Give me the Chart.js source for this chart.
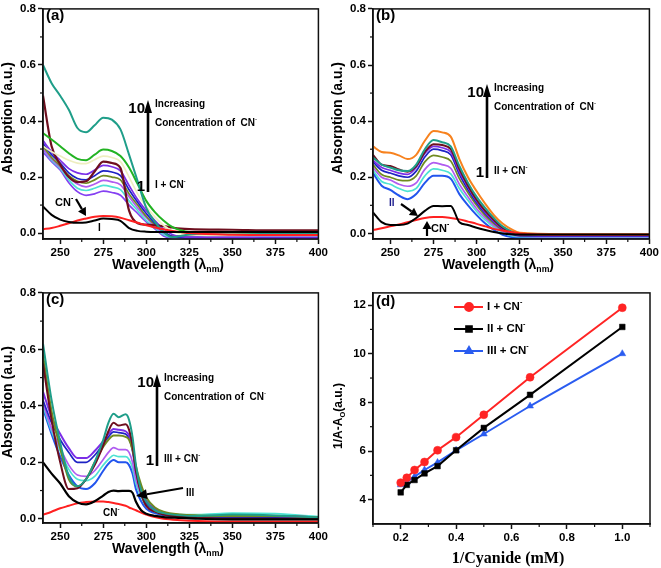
<!DOCTYPE html>
<html>
<head>
<meta charset="utf-8">
<script src="https://cdn.jsdelivr.net/npm/chart.js@4.4.0/dist/chart.umd.min.js"></script>
<style>
  body { margin: 0; background: #fff; }
  #wrap { position: relative; width: 661px; height: 568px; }
  canvas { position: absolute; }
</style>
</head>
<body>
<div id="wrap">
  <canvas id="pa" width="330" height="284" style="left:0;top:0"></canvas>
  <canvas id="pb" width="331" height="284" style="left:330px;top:0"></canvas>
  <canvas id="pc" width="330" height="284" style="left:0;top:284px"></canvas>
  <canvas id="pd" width="331" height="284" style="left:330px;top:284px"></canvas>
</div>
<script>
// ---- data ----
const WL_AB = [240, 245, 250, 255, 260, 265, 270, 275, 280, 285, 290, 295, 300, 305, 310, 315, 320, 325, 350, 375, 400];
const WL_C = [240, 245, 250, 255, 260, 265, 270, 275, 278, 281, 284, 288, 290, 292, 294, 297, 300, 305, 310, 320, 330, 350, 375, 400];

const X_TICKS = [250, 275, 300, 325, 350, 375, 400];
const X_MINOR = [262.5, 287.5, 312.5, 337.5, 362.5, 387.5];
const Y_TICKS = [0, 0.2, 0.4, 0.6, 0.8];
const Y_MINOR = [0.1, 0.3, 0.5, 0.7];

// panel (a): I + CN-
const A_I      = [0.095, 0.065, 0.048, 0.040, 0.037, 0.038, 0.045, 0.052, 0.050, 0.044, 0.018, 0.008, 0.005, 0.004, 0.004, 0.004, 0.004, 0.004, 0.004, 0.004, 0.004];
const A_CN     = [0.014, 0.018, 0.026, 0.035, 0.045, 0.052, 0.058, 0.061, 0.060, 0.055, 0.046, 0.037, 0.028, 0.020, 0.014, 0.008, 0.004, 0.000, -0.006, -0.007, -0.007];
const A_TEAL   = [0.600, 0.535, 0.490, 0.440, 0.375, 0.360, 0.385, 0.412, 0.405, 0.370, 0.280, 0.185, 0.090, 0.040, 0.005, -0.015, -0.010, -0.005, 0.003, 0.000, 0.000];
const A_GREEN  = [0.357, 0.334, 0.310, 0.285, 0.265, 0.260, 0.280, 0.298, 0.293, 0.275, 0.234, 0.175, 0.115, 0.075, 0.045, 0.022, 0.010, 0.004, 0.003, 0.002, 0.002];
const A_YELLOW = [0.310, 0.290, 0.275, 0.260, 0.250, 0.248, 0.262, 0.275, 0.270, 0.255, 0.200, 0.140, 0.095, 0.058, 0.028, 0.008, -0.002, -0.006, -0.008, -0.008, -0.008];
const A_MAROON = [0.490, 0.310, 0.245, 0.200, 0.182, 0.185, 0.220, 0.255, 0.250, 0.232, 0.080, 0.035, 0.030, 0.028, 0.025, 0.020, 0.016, 0.014, 0.012, 0.010, 0.010];
const A_VIOLET = [0.330, 0.290, 0.260, 0.230, 0.215, 0.210, 0.225, 0.242, 0.237, 0.222, 0.170, 0.120, 0.080, 0.045, 0.015, -0.005, -0.012, -0.015, -0.015, -0.018, -0.018];
const A_NAVY   = [0.320, 0.280, 0.250, 0.215, 0.195, 0.190, 0.205, 0.222, 0.218, 0.205, 0.155, 0.110, 0.070, 0.035, 0.005, -0.012, -0.015, -0.016, -0.016, -0.016, -0.016];
const A_OLIVE  = [0.310, 0.270, 0.240, 0.205, 0.185, 0.178, 0.190, 0.205, 0.200, 0.190, 0.140, 0.100, 0.060, 0.030, 0.005, -0.010, -0.010, -0.008, -0.005, -0.005, -0.005];
const A_LPURP  = [0.300, 0.265, 0.235, 0.200, 0.175, 0.165, 0.175, 0.188, 0.183, 0.172, 0.130, 0.090, 0.055, 0.025, 0.000, -0.012, -0.014, -0.014, -0.014, -0.014, -0.014];
const A_CYAN   = [0.300, 0.260, 0.230, 0.190, 0.160, 0.152, 0.160, 0.170, 0.165, 0.155, 0.115, 0.080, 0.045, 0.020, -0.005, -0.015, -0.015, -0.014, -0.012, -0.012, -0.012];
const A_PURPLE = [0.290, 0.255, 0.225, 0.180, 0.148, 0.135, 0.140, 0.150, 0.145, 0.135, 0.100, 0.070, 0.040, 0.015, -0.010, -0.018, -0.020, -0.020, -0.020, -0.020, -0.020];

// panel (b): II + CN-
const B_II     = [0.075, 0.040, 0.030, 0.030, 0.035, 0.055, 0.080, 0.098, 0.097, 0.098, 0.040, 0.030, 0.020, 0.012, 0.005, 0.000, -0.003, -0.004, -0.004, -0.004, -0.004];
const B_CN     = [0.012, 0.018, 0.025, 0.032, 0.040, 0.048, 0.055, 0.058, 0.058, 0.055, 0.050, 0.042, 0.034, 0.025, 0.016, 0.010, 0.005, 0.000, -0.005, -0.005, -0.005];
const B_ORANGE = [0.310, 0.290, 0.287, 0.278, 0.265, 0.280, 0.330, 0.365, 0.360, 0.345, 0.265, 0.200, 0.150, 0.105, 0.065, 0.035, 0.015, 0.002, -0.003, -0.003, -0.003];
const B_TEAL   = [0.270, 0.245, 0.235, 0.225, 0.222, 0.245, 0.300, 0.333, 0.325, 0.310, 0.240, 0.180, 0.130, 0.090, 0.055, 0.025, 0.008, -0.002, -0.005, -0.005, -0.005];
const B_MAROON = [0.280, 0.245, 0.240, 0.228, 0.220, 0.240, 0.290, 0.318, 0.315, 0.300, 0.230, 0.170, 0.120, 0.080, 0.048, 0.020, 0.005, -0.004, -0.006, -0.006, -0.006];
const B_VIOLET = [0.260, 0.235, 0.225, 0.215, 0.210, 0.235, 0.285, 0.310, 0.305, 0.290, 0.220, 0.165, 0.115, 0.075, 0.043, 0.017, 0.002, -0.006, -0.008, -0.008, -0.008];
const B_NAVY   = [0.255, 0.225, 0.215, 0.205, 0.200, 0.222, 0.272, 0.300, 0.295, 0.280, 0.210, 0.155, 0.108, 0.070, 0.040, 0.015, 0.000, -0.008, -0.010, -0.010, -0.010];
const B_OLIVE  = [0.245, 0.210, 0.200, 0.190, 0.188, 0.205, 0.255, 0.278, 0.272, 0.258, 0.195, 0.145, 0.100, 0.063, 0.035, 0.012, -0.002, -0.008, -0.010, -0.010, -0.010];
const B_LPURP  = [0.235, 0.200, 0.190, 0.175, 0.168, 0.180, 0.228, 0.252, 0.245, 0.232, 0.175, 0.130, 0.088, 0.055, 0.028, 0.008, -0.005, -0.010, -0.012, -0.012, -0.012];
const B_CYAN   = [0.225, 0.185, 0.175, 0.160, 0.150, 0.160, 0.205, 0.230, 0.225, 0.212, 0.160, 0.118, 0.078, 0.047, 0.022, 0.003, -0.008, -0.012, -0.013, -0.013, -0.013];
const B_BLUE   = [0.215, 0.170, 0.155, 0.135, 0.122, 0.140, 0.180, 0.205, 0.205, 0.195, 0.140, 0.100, 0.065, 0.035, 0.012, -0.005, -0.013, -0.015, -0.015, -0.015, -0.015];

// panel (c): III + CN-
const C_III    = [0.200, 0.160, 0.125, 0.080, 0.058, 0.051, 0.062, 0.082, 0.095, 0.100, 0.098, 0.099, 0.099, 0.092, 0.060, 0.030, 0.018, 0.010, 0.006, 0.003, 0.000, -0.002, -0.002, -0.002];
const C_CN     = [0.014, 0.025, 0.037, 0.046, 0.055, 0.059, 0.061, 0.061, 0.059, 0.056, 0.052, 0.046, 0.040, 0.035, 0.030, 0.022, 0.015, 0.006, 0.000, -0.005, -0.008, -0.010, -0.010, -0.010];
const C_TEAL   = [0.620, 0.420, 0.270, 0.150, 0.115, 0.140, 0.200, 0.280, 0.340, 0.372, 0.360, 0.370, 0.350, 0.290, 0.190, 0.100, 0.060, 0.030, 0.020, 0.012, 0.010, 0.015, 0.012, 0.005];
const C_MAROON = [0.550, 0.350, 0.200, 0.105, 0.108, 0.140, 0.190, 0.260, 0.310, 0.340, 0.330, 0.335, 0.315, 0.260, 0.170, 0.090, 0.045, 0.025, 0.015, 0.008, 0.005, 0.000, 0.000, 0.000];
const C_OLIVE  = [0.580, 0.380, 0.250, 0.140, 0.115, 0.140, 0.200, 0.255, 0.280, 0.295, 0.295, 0.290, 0.280, 0.245, 0.185, 0.120, 0.075, 0.040, 0.025, 0.015, 0.012, 0.010, 0.010, 0.005];
const C_VIOLET = [0.450, 0.360, 0.300, 0.250, 0.215, 0.215, 0.240, 0.275, 0.300, 0.318, 0.315, 0.310, 0.295, 0.250, 0.175, 0.105, 0.065, 0.035, 0.020, 0.012, 0.010, 0.012, 0.010, 0.005];
const C_NAVY   = [0.420, 0.340, 0.280, 0.235, 0.200, 0.200, 0.225, 0.265, 0.290, 0.308, 0.305, 0.300, 0.285, 0.240, 0.165, 0.095, 0.055, 0.030, 0.015, 0.008, 0.005, 0.005, 0.004, 0.002];
const C_LPURP  = [0.410, 0.320, 0.250, 0.190, 0.155, 0.150, 0.170, 0.210, 0.235, 0.252, 0.245, 0.245, 0.235, 0.200, 0.140, 0.085, 0.050, 0.028, 0.016, 0.010, 0.008, 0.012, 0.010, 0.005];
const C_CYAN   = [0.400, 0.310, 0.240, 0.175, 0.140, 0.135, 0.150, 0.190, 0.210, 0.225, 0.220, 0.220, 0.210, 0.180, 0.125, 0.078, 0.045, 0.025, 0.018, 0.015, 0.015, 0.020, 0.018, 0.008];
const C_BLUE   = [0.390, 0.300, 0.220, 0.155, 0.115, 0.105, 0.125, 0.170, 0.195, 0.208, 0.200, 0.200, 0.190, 0.160, 0.105, 0.062, 0.035, 0.020, 0.012, 0.008, 0.006, 0.008, 0.006, 0.003];

// panel (d): Benesi-Hildebrand plot
const D_X   = [0.2, 0.222, 0.25, 0.286, 0.333, 0.4, 0.5, 0.667, 1.0];
const D_I   = [4.70, 4.90, 5.22, 5.55, 6.03, 6.57, 7.49, 9.03, 11.89];
const D_II  = [4.30, 4.61, 4.81, 5.08, 5.38, 6.03, 6.95, 8.31, 11.10];
const D_III = [4.61, 4.72, 4.95, 5.22, 5.53, 6.03, 6.70, 7.85, 10.00];
const D_X_TICKS = [0.2, 0.4, 0.6, 0.8, 1.0];
const D_X_MINOR = [0.1, 0.3, 0.5, 0.7, 0.9, 1.1];
const D_Y_TICKS = [4, 6, 8, 10, 12];
const D_Y_MINOR = [5, 7, 9, 11];

// ---- styles ----
const SANS = '"Liberation Sans", Arial, sans-serif';
const SERIF = '"Liberation Serif", "Times New Roman", serif';
const C = {
  black: '#000000', red: '#ff2020', teal: '#1f9e89', green: '#22b322', yellow: '#eeeec0',
  maroon: '#6e0f1e', violet: '#7b2ee8', navy: '#1d22c4', olive: '#6f8a1f', lpurp: '#b05cf0',
  cyan: '#4de3d3', blue: '#2f62e6', purple: '#8540f2', orange: '#f7821e', dblue: '#2255ee'
};

// rich text: ^{..} superscript, _{..} subscript
function parseRich(s) {
  const out = [];
  const re = /([\^_])\{([^}]*)\}/g;
  let last = 0, m;
  while ((m = re.exec(s))) {
    if (m.index > last) out.push({ t: s.slice(last, m.index), k: '' });
    out.push({ t: m[2], k: m[1] === '^' ? 'sup' : 'sub' });
    last = re.lastIndex;
  }
  if (last < s.length) out.push({ t: s.slice(last), k: '' });
  return out;
}

function drawRich(ctx, s, x, y, size, align, family) {
  const parts = parseRich(s);
  const fam = family || SANS;
  const fontOf = p => 'bold ' + (p.k ? size * 0.62 : size) + 'px ' + fam;
  let w = 0;
  parts.forEach(p => { ctx.font = fontOf(p); p.w = ctx.measureText(p.t).width; w += p.w; });
  let cx = align === 'center' ? x - w / 2 : align === 'right' ? x - w : x;
  ctx.textAlign = 'left';
  ctx.textBaseline = 'middle';
  parts.forEach(p => {
    ctx.font = fontOf(p);
    const dy = p.k === 'sup' ? -size * 0.42 : p.k === 'sub' ? size * 0.3 : 0;
    ctx.fillText(p.t, cx, y + dy);
    cx += p.w;
  });
}

function arrow(ctx, x1, y1, x2, y2, lw, headLen, headW) {
  const ang = Math.atan2(y2 - y1, x2 - x1);
  const bx = x2 - Math.cos(ang) * headLen, by = y2 - Math.sin(ang) * headLen;
  ctx.lineWidth = lw;
  ctx.beginPath();
  ctx.moveTo(x1, y1);
  ctx.lineTo(bx, by);
  ctx.stroke();
  ctx.beginPath();
  ctx.moveTo(x2, y2);
  ctx.lineTo(bx + Math.sin(ang) * headW, by - Math.cos(ang) * headW);
  ctx.lineTo(bx - Math.sin(ang) * headW, by + Math.cos(ang) * headW);
  ctx.closePath();
  ctx.fill();
}

// frame, minor ticks, titles and notes
function decor(cfg) {
  return {
    id: 'decor',
    afterDraw(chart) {
      const { ctx, chartArea: a, scales } = chart;
      ctx.save();
      ctx.strokeStyle = '#111';
      ctx.fillStyle = '#111';
      ctx.lineWidth = 1.5;
      ctx.strokeRect(a.left, a.top, a.right - a.left, a.bottom - a.top);
      ctx.lineWidth = 1.2;
      cfg.xMinor.forEach(v => {
        const p = scales.x.getPixelForValue(v);
        ctx.beginPath(); ctx.moveTo(p, a.bottom); ctx.lineTo(p, a.bottom + 3); ctx.stroke();
      });
      cfg.yMinor.forEach(v => {
        const p = scales.y.getPixelForValue(v);
        ctx.beginPath(); ctx.moveTo(a.left - 3, p); ctx.lineTo(a.left, p); ctx.stroke();
      });
      // axis titles
      ctx.fillStyle = '#000';
      drawRich(ctx, cfg.xTitle, cfg.xTitlePos[0], cfg.xTitlePos[1], cfg.xTitleSize, 'center', cfg.xTitleFamily);
      ctx.save();
      ctx.translate(cfg.yTitlePos[0], cfg.yTitlePos[1]);
      ctx.rotate(-Math.PI / 2);
      drawRich(ctx, cfg.yTitle, 0, 0, cfg.yTitleSize, 'center');
      ctx.restore();
      // notes
      (cfg.notes || []).forEach(n => {
        ctx.fillStyle = n.color || '#000';
        drawRich(ctx, n.text, n.x, n.y, n.size, n.align || 'left');
      });
      (cfg.arrows || []).forEach(r => {
        ctx.strokeStyle = r.color || '#000';
        ctx.fillStyle = r.color || '#000';
        arrow(ctx, r.from[0], r.from[1], r.to[0], r.to[1], r.lw, r.head, r.hw);
      });
      // manual legend
      (cfg.legend || []).forEach((row, i) => {
        const ds = chart.data.datasets[i];
        const y = row.y;
        ctx.strokeStyle = ds.borderColor;
        ctx.fillStyle = ds.borderColor;
        ctx.lineWidth = 2;
        ctx.beginPath(); ctx.moveTo(row.x0, y); ctx.lineTo(row.x1, y); ctx.stroke();
        Chart.helpers.drawPoint(ctx, { pointStyle: ds.pointStyle, radius: 4, borderWidth: 0.5 }, row.mx, y);
        ctx.fillStyle = '#000';
        drawRich(ctx, ds.label, row.tx, y, 11.5, 'left');
      });
      ctx.restore();
    }
  };
}

function axis(min, max, ticks, fmt, fit) {
  return {
    type: 'linear', min: min, max: max,
    afterBuildTicks: s => { s.ticks = ticks.map(v => ({ value: v })); },
    afterFit: fit,
    ticks: { color: '#000', font: { family: SANS, size: 11.5, weight: 'bold' }, padding: 2, callback: fmt },
    grid: { drawOnChartArea: false, tickLength: 5, tickWidth: 1.5, color: '#111' },
    border: { color: '#111', width: 1.5 }
  };
}

function spectrum(id, wl, series, yMin, extra) {
  new Chart(document.getElementById(id), {
    type: 'line',
    data: {
      datasets: series.map(s => ({
        label: s[0],
        data: wl.map((w, i) => ({ x: w, y: s[1][i] })),
        borderColor: s[2],
        borderWidth: s[3] || 1.7,
        pointRadius: 0,
        cubicInterpolationMode: 'monotone',
        fill: false
      }))
    },
    options: {
      responsive: false, animation: false, events: [],
      layout: { padding: { top: 6, right: 11, left: 0, bottom: 0 } },
      plugins: { legend: { display: false }, tooltip: { enabled: false } },
      scales: {
        x: axis(240, 400, X_TICKS, v => String(v), s => { s.height = 45; }),
        y: axis(yMin, 0.8, Y_TICKS, v => v.toFixed(1), s => { s.width = 43; })
      }
    },
    plugins: [decor(Object.assign({
      xMinor: X_MINOR, yMinor: Y_MINOR,
      xTitle: 'Wavelength (λ_{nm})', xTitlePos: [168, 265], xTitleSize: 14,
      yTitle: 'Absorption (a.u.)', yTitlePos: [8, 118], yTitleSize: 14
    }, extra))]
  });
}

// big "Increasing concentration" arrow block
function incNotes(ax, tipY, baseY, label) {
  return [
    { text: '10', x: ax - 3, y: tipY + 9, size: 15, align: 'right' },
    { text: 'Increasing', x: ax + 7, y: tipY + 4, size: 10 },
    { text: 'Concentration of  CN^{-}', x: ax + 7, y: tipY + 23, size: 10 },
    { text: '1', x: ax - 3, y: baseY - 5, size: 15, align: 'right' },
    { text: label, x: ax + 7, y: baseY - 7, size: 10 }
  ];
}

spectrum('pa', WL_AB, [
  ['I', A_I, C.black, 2], ['CN-', A_CN, C.red, 2],
  ['10', A_TEAL, C.teal, 2], ['9', A_GREEN, C.green, 2], ['8', A_YELLOW, C.yellow],
  ['7', A_MAROON, C.maroon, 2.2], ['6', A_VIOLET, C.violet], ['5', A_NAVY, C.navy],
  ['4', A_OLIVE, C.olive], ['3', A_LPURP, C.lpurp], ['2', A_CYAN, C.cyan], ['1', A_PURPLE, C.purple]
], -0.021, {
  notes: [{ text: '(a)', x: 46, y: 16, size: 15 }, { text: 'CN^{-}', x: 55, y: 203, size: 11 }, { text: 'I', x: 98, y: 228, size: 10 }]
    .concat(incNotes(148, 100, 192, 'I + CN^{-}')),
  arrows: [
    { from: [148, 192], to: [148, 100], lw: 2.6, head: 13, hw: 4 },
    { from: [76, 199], to: [86, 216], lw: 2.2, head: 8, hw: 4.5 }
  ]
});

spectrum('pb', WL_AB, [
  ['II', B_II, C.black, 2], ['CN-', B_CN, C.red, 2],
  ['10', B_ORANGE, C.orange, 2], ['9', B_TEAL, C.teal, 2], ['8', B_MAROON, C.maroon, 2],
  ['7', B_VIOLET, C.violet], ['6', B_NAVY, C.navy], ['5', B_OLIVE, C.olive],
  ['4', B_LPURP, C.lpurp], ['3', B_CYAN, C.cyan], ['2', B_BLUE, C.dblue, 2]
], -0.02, {
  notes: [{ text: '(b)', x: 46, y: 16, size: 15 }, { text: 'II', x: 59, y: 203, size: 10, color: '#1a1a8c' }, { text: 'CN^{-}', x: 101, y: 229, size: 11 }]
    .concat(incNotes(157, 84, 178, 'II + CN^{-}')),
  arrows: [
    { from: [157, 178], to: [157, 84], lw: 2.6, head: 13, hw: 4 },
    { from: [71, 204], to: [88, 216], lw: 2.2, head: 8, hw: 4.5 },
    { from: [97, 236], to: [97, 221], lw: 2.2, head: 8, hw: 4.5 }
  ]
});

spectrum('pc', WL_C, [
  ['III', C_III, C.black, 2.2], ['CN-', C_CN, C.red, 2],
  ['10', C_TEAL, C.teal, 2], ['9', C_MAROON, C.maroon, 2], ['8', C_OLIVE, C.olive, 2],
  ['7', C_VIOLET, C.violet, 2], ['6', C_NAVY, C.navy], ['5', C_LPURP, C.lpurp],
  ['4', C_CYAN, C.cyan], ['3', C_BLUE, C.dblue, 2]
], -0.015, {
  notes: [{ text: '(c)', x: 46, y: 16, size: 15 }, { text: 'III', x: 186, y: 209, size: 10 }, { text: 'CN^{-}', x: 103, y: 229, size: 10 }]
    .concat(incNotes(157, 90, 182, 'III + CN^{-}')),
  arrows: [
    { from: [157, 182], to: [157, 90], lw: 2.6, head: 13, hw: 4 },
    { from: [183, 204], to: [136, 212], lw: 2, head: 11, hw: 5 }
  ]
});

new Chart(document.getElementById('pd'), {
  type: 'line',
  data: {
    datasets: [
      ['I + CN^{-}', D_I, '#ff2424', 'circle'],
      ['II + CN^{-}', D_II, '#000000', 'rect'],
      ['III + CN^{-}', D_III, '#2a5cf0', 'triangle']
    ].map(s => ({
      label: s[0],
      data: D_X.map((x, i) => ({ x: x, y: s[1][i] })),
      borderColor: s[2], backgroundColor: s[2],
      pointStyle: s[3], pointRadius: 4, pointBorderWidth: 0.5,
      borderWidth: 2, tension: 0, fill: false
    }))
  },
  options: {
    responsive: false, animation: false, events: [],
    layout: { padding: { top: 6, right: 11, left: 0, bottom: 0 } },
    plugins: { legend: { display: false }, tooltip: { enabled: false } },
    scales: {
      x: axis(0.1, 1.1, D_X_TICKS, v => v.toFixed(1), s => { s.height = 44; }),
      y: axis(3, 12.5, D_Y_TICKS, v => String(v), s => { s.width = 43; })
    }
  },
  plugins: [decor({
    xMinor: D_X_MINOR, yMinor: D_Y_MINOR,
    xTitle: '1/Cyanide (mM)', xTitlePos: [178, 275], xTitleSize: 16, xTitleFamily: SERIF,
    yTitle: '1/A-A_{O}(a.u.)', yTitlePos: [9, 132], yTitleSize: 12,
    notes: [{ text: '(d)', x: 46, y: 18, size: 15 }],
    legend: [
      { y: 23, x0: 124, x1: 153, mx: 139, tx: 157 },
      { y: 45, x0: 124, x1: 153, mx: 139, tx: 157 },
      { y: 67, x0: 124, x1: 153, mx: 139, tx: 157 }
    ]
  })]
});
</script>
</body>
</html>
